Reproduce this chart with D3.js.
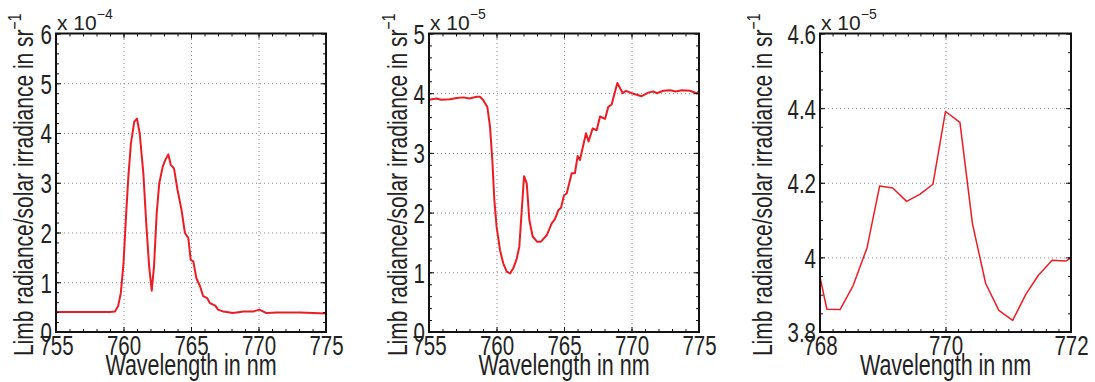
<!DOCTYPE html>
<html><head><meta charset="utf-8">
<script src="https://cdn.jsdelivr.net/npm/d3@7"></script>
<style>
html,body{margin:0;padding:0;background:#fff;}
svg{display:block;font-family:"Liberation Sans",Arial,Helvetica,sans-serif;}
</style></head>
<body><svg id="c" width="1095" height="382"></svg>
<script>
// ---- Data (y values in units of the axis multiplier) ----
const p1Wavelength = [755,756,757,758,759,759.37,759.6,759.8,760,760.2,760.36,760.55,760.8,761.0,761.2,761.47,761.7,761.9,762.09,762.26,762.46,762.65,762.9,763.1,763.32,763.5,763.74,764.0,764.3,764.55,764.8,764.98,765.17,765.4,765.67,765.9,766.2,766.4,766.8,767.0,767.4,768.1,768.9,769.6,770.06,770.6,771.35,773.07,775];
const p1Ratio = [0.40,0.40,0.40,0.40,0.40,0.41,0.52,0.78,1.38,2.39,3.12,3.79,4.23,4.29,3.99,3.19,2.12,1.32,0.83,1.32,2.39,2.99,3.32,3.46,3.57,3.36,3.29,2.86,2.45,1.99,1.89,1.45,1.42,1.08,0.92,0.72,0.68,0.58,0.53,0.45,0.41,0.38,0.41,0.41,0.45,0.38,0.39,0.39,0.37];

const p2Wavelength = [755,755.57,755.9,756.56,757.05,757.54,758.0,758.53,758.77,759.0,759.32,759.52,759.69,759.84,760.01,760.26,760.5,760.76,761.0,761.25,761.5,761.69,761.87,762.04,762.24,762.43,762.68,763.02,763.27,763.72,764.09,764.33,764.58,764.78,765.0,765.2,765.57,765.81,766.01,766.18,766.63,766.82,767.12,767.42,767.67,768.04,768.28,768.53,768.95,769.35,769.59,770.01,770.75,771.24,771.61,771.87,772.36,772.85,773.3,773.72,774.33,774.83,775];
const p2Ratio = [3.89,3.91,3.89,3.90,3.92,3.93,3.91,3.94,3.94,3.89,3.77,3.44,2.88,2.21,1.76,1.37,1.15,1.01,0.98,1.07,1.23,1.43,2.04,2.61,2.49,1.88,1.60,1.51,1.51,1.62,1.82,1.89,2.04,2.08,2.29,2.32,2.66,2.66,2.95,2.88,3.33,3.19,3.41,3.38,3.61,3.57,3.77,3.81,4.17,4.00,4.04,4.00,3.95,4.01,4.03,4.00,4.04,4.05,4.03,4.05,4.04,4.00,4.03];

const p3Wavelength = [768.0,768.11,768.32,768.53,768.75,768.95,769.16,769.38,769.59,769.80,770.0,770.23,770.43,770.64,770.85,771.07,771.28,771.48,771.70,771.91,772.0];
const p3Ratio = [3.947,3.861,3.860,3.925,4.026,4.191,4.186,4.150,4.169,4.196,4.391,4.362,4.090,3.930,3.858,3.831,3.901,3.952,3.992,3.990,3.998];

const p1XTicks = [755,760,765,770,775];
const p1YTicks = [0,1,2,3,4,5,6];
const p2XTicks = [755,760,765,770,775];
const p2YTicks = [0,1,2,3,4,5];
const p3XTicks = [768,770,772];
const p3YTicks = [3.8,4.0,4.2,4.4,4.6];
const exponents = ["\u22124","\u22125","\u22125"];
const xLabel = "Wavelength in nm";
const yLabel = "Limb radiance/solar irradiance in sr";

// ---- Layout ----
const svg = d3.select("#c");
const topY = 33.5, bottomY = 332;
const K = 1.35;          // vertical glyph stretch seen in the reference
const red = "#ec1c24";

const panels = [
  {left:56, right:326, xd:[755,775], yd:[0,6], xt:p1XTicks, yt:p1YTicks, xm:d3.range(755,775.01,1), ym:d3.range(0,6.01,0.2), xs:p1Wavelength, ys:p1Ratio, exp:exponents[0], ylx:33, lw:2, fmt:d3.format("d")},
  {left:429, right:699, xd:[755,775], yd:[0,5], xt:p2XTicks, yt:p2YTicks, xm:d3.range(755,775.01,1), ym:d3.range(0,5.01,0.2), xs:p2Wavelength, ys:p2Ratio, exp:exponents[1], ylx:407, lw:2, fmt:d3.format("d")},
  {left:820, right:1071, xd:[768,772], yd:[3.8,4.6], xt:p3XTicks, yt:p3YTicks, xm:d3.range(768,772.01,0.2), ym:d3.range(3.8,4.601,0.05), xs:p3Wavelength, ys:p3Ratio, exp:exponents[2], ylx:772, lw:1.5, fmt:d=>String(+d.toFixed(1))}
];

panels.forEach(p => {
  const x = d3.scaleLinear().domain(p.xd).range([p.left, p.right]);
  const y = d3.scaleLinear().domain(p.yd).range([bottomY, topY]);
  const g = svg.append("g");
  const w = p.right - p.left, h = bottomY - topY;

  // grid
  const gridX = p.xt.slice(1, -1), gridY = p.yt.slice(1, -1);
  g.append("g").attr("transform", `translate(0,${bottomY})`)
    .call(d3.axisBottom(x).tickValues(gridX).tickSize(-h).tickFormat(""))
    .call(a => a.select(".domain").remove())
    .call(a => a.selectAll("line").attr("stroke", "#8a8a8a").attr("stroke-width", 1).attr("stroke-dasharray", "1,3"));
  g.append("g").attr("transform", `translate(${p.left},0)`)
    .call(d3.axisLeft(y).tickValues(gridY).tickSize(-w).tickFormat(""))
    .call(a => a.select(".domain").remove())
    .call(a => a.selectAll("line").attr("stroke", "#8a8a8a").attr("stroke-width", 1).attr("stroke-dasharray", "1,3"));

  // data line
  const pts = p.xs.map((v, i) => [v, p.ys[i]]);
  g.append("path").datum(pts)
    .attr("fill", "none").attr("stroke", red).attr("stroke-width", p.lw).attr("stroke-linejoin", "round")
    .attr("d", d3.line().x(d => x(d[0])).y(d => y(d[1])));

  // minor + major ticks on all sides (inward)
  const tickStyle = a => { a.select(".domain").remove(); a.selectAll("line").attr("stroke", "#111").attr("stroke-width", 1); };
  [[d3.axisBottom, `translate(0,${bottomY})`, x, p.xm, p.xt],
   [d3.axisTop, `translate(0,${topY})`, x, p.xm, p.xt],
   [d3.axisLeft, `translate(${p.left},0)`, y, p.ym, p.yt],
   [d3.axisRight, `translate(${p.right},0)`, y, p.ym, p.yt]].forEach(([ax, tr, sc, minor, major]) => {
    g.append("g").attr("transform", tr).call(ax(sc).tickValues(minor).tickSize(-3).tickFormat("")).call(tickStyle);
    g.append("g").attr("transform", tr).call(ax(sc).tickValues(major).tickSize(-5).tickFormat("")).call(tickStyle);
  });

  // box
  g.append("rect").attr("x", p.left).attr("y", topY).attr("width", w).attr("height", h)
    .attr("fill", "none").attr("stroke", "#111").attr("stroke-width", 2);

  // tick labels
  g.append("g").attr("transform", `translate(0,${bottomY})`)
    .call(d3.axisBottom(x).tickValues(p.xt).tickSize(0).tickFormat(p.fmt))
    .call(a => a.select(".domain").remove())
    .call(a => a.selectAll("text").attr("fill", "#222").attr("font-size", 20.5)
      .attr("dy", 0).attr("y", 23 / K).attr("transform", `scale(1,${K})`));
  g.append("g").attr("transform", `translate(${p.left},0)`)
    .call(d3.axisLeft(y).tickValues(p.yt).tickSize(0).tickFormat(p.fmt))
    .call(a => a.select(".domain").remove())
    .call(a => a.selectAll("text").attr("fill", "#222").attr("font-size", 20.5)
      .attr("x", -4).attr("dy", "0.358em").attr("transform", `scale(1,${K})`));

  // multiplier
  const m = g.append("text").attr("x", p.left + 1).attr("y", 30).attr("fill", "#222").attr("font-size", 21);
  m.append("tspan").text("x 10");
  m.append("tspan").attr("font-size", 14).attr("dy", -11).text(p.exp);

  // axis labels
  g.append("text").attr("transform", `translate(${(p.left + p.right) / 2},375) scale(1,${K})`)
    .attr("text-anchor", "middle").attr("font-size", 21.5).attr("fill", "#222").text(xLabel);
  const yl = g.append("text").attr("transform", `translate(${p.ylx},${(topY + bottomY) / 2 + 2}) rotate(-90) scale(1,${K})`)
    .attr("text-anchor", "middle").attr("font-size", 21).attr("fill", "#222");
  yl.append("tspan").text(yLabel);
  yl.append("tspan").attr("font-size", 14).attr("dy", -9).text("\u22121");
});
</script></body></html>
